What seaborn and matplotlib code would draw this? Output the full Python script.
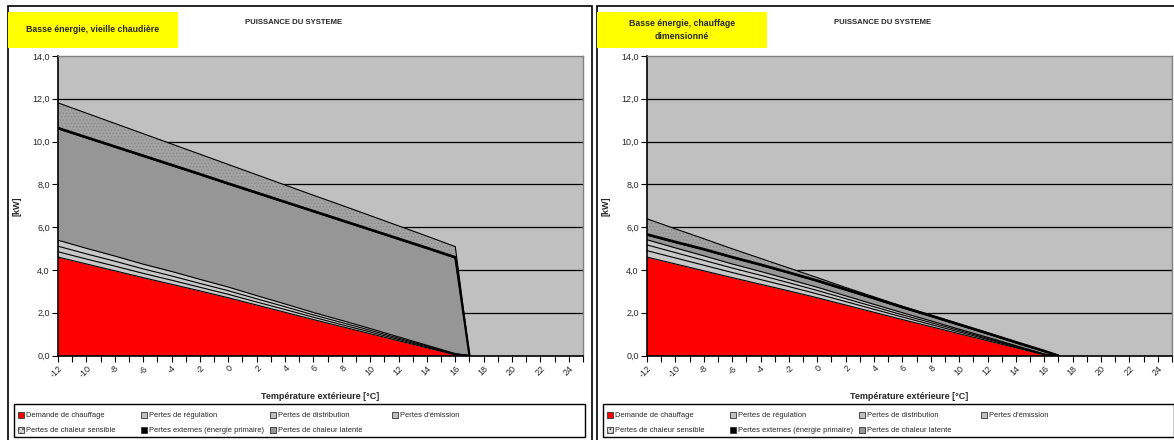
import numpy as np
import seaborn as sns
import matplotlib.pyplot as plt
from matplotlib.patches import Rectangle
from matplotlib.ticker import FuncFormatter, MultipleLocator

# outdoor temperature (°C)
temps = [-12, -10, -8, -6, -4, -2, 0, 2, 4, 6, 8, 10, 12, 14, 16, 17]

# heating demand, same for both systems (kW)
demande = [4.6, 4.28, 3.96, 3.64, 3.33, 3.02, 2.7, 2.36, 2.02, 1.68, 1.35, 1.02, 0.69, 0.36, 0.03, 0]

# old boiler
reg_old = [0.25, 0.23, 0.22, 0.2, 0.19, 0.17, 0.16, 0.14, 0.13, 0.11, 0.09, 0.08, 0.06, 0.04, 0.02, 0]
dist_old = [0.26, 0.24, 0.23, 0.21, 0.2, 0.18, 0.17, 0.15, 0.13, 0.11, 0.1, 0.08, 0.06, 0.04, 0.02, 0]
em_old = [0.28, 0.26, 0.24, 0.22, 0.21, 0.19, 0.17, 0.15, 0.13, 0.11, 0.1, 0.08, 0.06, 0.04, 0.02, 0]
sens_old = [5.2, 5.15, 5.08, 5.03, 4.94, 4.88, 4.8, 4.77, 4.73, 4.7, 4.64, 4.59, 4.55, 4.51, 4.46, 0]
ext_old = [0.05, 0.05, 0.05, 0.05, 0.05, 0.05, 0.05, 0.05, 0.05, 0.05, 0.05, 0.05, 0.05, 0.05, 0.05, 0]
lat_old = [1.17, 1.12, 1.07, 1.02, 0.97, 0.92, 0.88, 0.83, 0.78, 0.73, 0.69, 0.64, 0.59, 0.54, 0.49, 0]

# sized heating system
reg_new = [0.3, 0.28, 0.26, 0.24, 0.22, 0.2, 0.18, 0.16, 0.14, 0.12, 0.1, 0.08, 0.06, 0.04, 0.02, 0]
dist_new = [0.27, 0.25, 0.23, 0.21, 0.2, 0.18, 0.16, 0.14, 0.12, 0.1, 0.09, 0.07, 0.05, 0.03, 0.01, 0]
em_new = [0.24, 0.22, 0.21, 0.19, 0.18, 0.16, 0.15, 0.13, 0.11, 0.1, 0.08, 0.06, 0.05, 0.03, 0.01, 0]
sens_new = [0.21, 0.24, 0.27, 0.28, 0.28, 0.28, 0.27, 0.26, 0.25, 0.22, 0.2, 0.18, 0.15, 0.12, 0.1, 0]
ext_new = [0.05, 0.05, 0.05, 0.05, 0.05, 0.05, 0.05, 0.05, 0.05, 0.05, 0.05, 0.05, 0.05, 0.05, 0.05, 0]
lat_new = [0.72, 0.6, 0.48, 0.38, 0.28, 0.2, 0.13, 0.08, 0.05, 0.03, 0.02, 0.02, 0.01, 0.01, 0.0, 0]

series_names = ['Demande de chauffage', 'Pertes de régulation', 'Pertes de distribution',
                "Pertes d'émission", 'Pertes de chaleur sensible',
                'Pertes externes (énergie primaire)', 'Pertes de chaleur latente']
titles = ['Basse énergie, vieille chaudière', 'Basse énergie, chauffage\ndimensionné']

colors = ['#ff0000', '#c8c8c8', '#c8c8c8', '#c8c8c8', '#969696', '#000000', '#9c9c9c']

sns.set_theme(style='white')
plt.rcParams['font.family'] = ['Liberation Sans', 'DejaVu Sans']
plt.rcParams['hatch.linewidth'] = 0.6

W, H = 1174, 440
fig = plt.figure(figsize=(W / 100, H / 100), dpi=100)


def fig_rect(x0, y0, x1, y1):
    # pixel box -> figure fraction
    return [x0 / W, 1 - y1 / H, (x1 - x0) / W, (y1 - y0) / H]


def add_box(x0, y0, x1, y1, **kw):
    r = fig_rect(x0, y0, x1, y1)
    p = Rectangle((r[0], r[1]), r[2], r[3], transform=fig.transFigure, **kw)
    fig.add_artist(p)
    return p


def draw_panel(ox, layers, title):
    add_box(ox + 8, 6, ox + 592, 445, fill=False, ec='black', lw=1.2)
    add_box(ox + 8, 12, ox + 178, 48, fc='#ffff00', ec='none')
    fig.text((ox + 93) / W, 1 - 30 / H, title, ha='center', va='center',
             fontsize=6.3, fontweight='bold', linespacing=1.5)
    fig.text((ox + 294) / W, 1 - 22 / H, 'PUISSANCE DU SYSTEME', ha='center', va='center',
             fontsize=5.6, fontweight='bold')

    ax = fig.add_axes(fig_rect(ox + 58, 56, ox + 583, 355.5))
    ax.set_facecolor('#c0c0c0')
    ax.set_xlim(-12, 25)
    ax.set_ylim(0, 14)
    for yv in range(2, 14, 2):
        ax.axhline(yv, color='black', lw=0.9, zorder=0.5)

    polys = ax.stackplot(temps, layers, colors=colors, linewidth=0, zorder=1)
    polys[6].set_hatch('.....')
    polys[6].set_edgecolor('#8a8a8a')
    polys[6].set_facecolor('#a2a2a2')
    polys[6].set_linewidth(0)

    cum = np.cumsum(np.array(layers), axis=0)
    for i, top in enumerate(cum):
        sns.lineplot(x=temps, y=top, ax=ax, color='black',
                     lw=1.6 if i == 5 else 0.8, zorder=3, legend=False)

    ax.xaxis.set_minor_locator(MultipleLocator(1))
    ax.yaxis.set_major_locator(MultipleLocator(2))
    ax.yaxis.set_major_formatter(FuncFormatter(lambda v, p: f'{v:.1f}'.replace('.', ',')))
    ax.tick_params(axis='x', which='both', direction='out', length=4, width=0.8,
                   color='black', bottom=True, labelsize=6.5, pad=2)
    ax.tick_params(axis='y', direction='out', length=4, width=0.8, color='black',
                   left=True, labelsize=6.5, pad=2)
    xt = list(range(-12, 25, 2))
    ax.set_xticks(xt)
    ax.set_xticklabels([str(t) for t in xt], rotation=45, ha='right', rotation_mode='anchor')

    for side in ['left', 'bottom']:
        ax.spines[side].set_color('black')
        ax.spines[side].set_linewidth(1.2)
    for side in ['top', 'right']:
        ax.spines[side].set_color('#808080')
        ax.spines[side].set_linewidth(1.0)

    ax.set_xlabel('Température extérieure [°C]', fontsize=6.5, fontweight='bold')
    ax.xaxis.set_label_coords(0.5, -0.122)
    ax.set_ylabel('[kW]', fontsize=6.5, fontweight='bold')
    ax.yaxis.set_label_coords(-0.069, 0.5)

    # legend, row by row like the spreadsheet one
    add_box(ox + 14, 404, ox + 585, 437, fill=False, ec='black', lw=1.0)
    col_x = [18, 141, 270, 392]
    row_y = [415, 430]
    marker_fc = ['#ff0000', '#c0c0c0', '#c0c0c0', '#c0c0c0', '#d8d8d8', '#000000', '#969696']
    for k, name in enumerate(series_names):
        r, c = divmod(k, 4)
        mx, my = ox + col_x[c], row_y[r]
        m = add_box(mx, my - 3, mx + 6, my + 3, fc=marker_fc[k], ec='#333333', lw=0.6)
        if k == 4:
            m.set_hatch('....')
        fig.text((mx + 8) / W, 1 - my / H, name, ha='left', va='center', fontsize=5.4)
    return ax


draw_panel(0, [demande, reg_old, dist_old, em_old, sens_old, ext_old, lat_old], titles[0])
draw_panel(589, [demande, reg_new, dist_new, em_new, sens_new, ext_new, lat_new], titles[1])

fig.savefig('out.png', dpi=100)
